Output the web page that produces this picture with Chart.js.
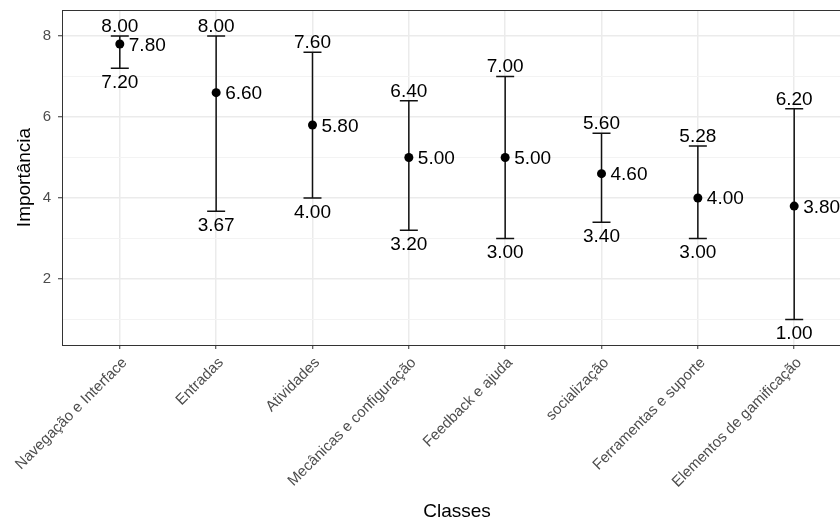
<!DOCTYPE html>
<html>
<head>
<meta charset="utf-8">
<script src="https://cdn.jsdelivr.net/npm/chart.js@4.4.1/dist/chart.umd.min.js"></script>
<style>
  html, body { margin: 0; padding: 0; overflow: hidden; background: #fff; }
  #wrap { width: 880px; height: 524px; }
</style>
</head>
<body>
<div id="wrap"><canvas id="chart" width="880" height="524"></canvas></div>
<script>
const categories = ['Navegação e Interface', 'Entradas', 'Atividades', 'Mecânicas e configuração',
    'Feedback e ajuda', 'socialização', 'Ferramentas e suporte', 'Elementos de gamificação'];
const meanValues = [7.80, 6.60, 5.80, 5.00, 5.00, 4.60, 4.00, 3.80];
const lowerValues = [7.20, 3.67, 4.00, 3.20, 3.00, 3.40, 3.00, 1.00];
const upperValues = [8.00, 8.00, 7.60, 6.40, 7.00, 5.60, 5.28, 6.20];
const yTicks = [1, 2, 3, 4, 5, 6, 7, 8];

Chart.defaults.font.family = '"Liberation Sans", Arial, sans-serif';

// barras de erro + rótulos + borda do painel
const errorBarPlugin = {
    id: 'errorBars',
    beforeDatasetsDraw(chart) {
        const { ctx, chartArea, scales: { x, y } } = chart;
        ctx.save();
        ctx.strokeStyle = '#333333';
        ctx.lineWidth = 1;
        ctx.strokeRect(chartArea.left + 0.5, chartArea.top + 0.5,
            chartArea.right - chartArea.left, chartArea.bottom - chartArea.top);

        ctx.strokeStyle = '#111111';
        ctx.lineWidth = 1.5;
        const half = 9;
        categories.forEach((c, i) => {
            const px = x.getPixelForValue(i);
            const yl = y.getPixelForValue(lowerValues[i]);
            const yu = y.getPixelForValue(upperValues[i]);
            ctx.beginPath();
            ctx.moveTo(px, yl); ctx.lineTo(px, yu);
            ctx.moveTo(px - half, yl); ctx.lineTo(px + half, yl);
            ctx.moveTo(px - half, yu); ctx.lineTo(px + half, yu);
            ctx.stroke();
        });
        ctx.restore();
    },
    afterDatasetsDraw(chart) {
        const { ctx, scales: { x, y } } = chart;
        ctx.save();
        ctx.fillStyle = '#000000';
        ctx.font = '19px "Liberation Sans", Arial, sans-serif';
        ctx.textBaseline = 'alphabetic';
        categories.forEach((c, i) => {
            const px = x.getPixelForValue(i);
            const yl = y.getPixelForValue(lowerValues[i]);
            const yu = y.getPixelForValue(upperValues[i]);
            const ym = y.getPixelForValue(meanValues[i]);
            ctx.textAlign = 'center';
            ctx.fillText(upperValues[i].toFixed(2), px, yu - 4);
            ctx.fillText(lowerValues[i].toFixed(2), px, yl + 20);
            ctx.textAlign = 'left';
            ctx.fillText(meanValues[i].toFixed(2), px + 9, ym + 6.5);
        });
        ctx.restore();
    }
};

const ctx = document.getElementById('chart').getContext('2d');
new Chart(ctx, {
    type: 'scatter',
    data: {
        datasets: [{
            label: 'Importância',
            data: categories.map((c, i) => ({ x: i, y: meanValues[i] })),
            backgroundColor: '#000000',
            borderWidth: 0,
            pointRadius: 4.5,
            pointHoverRadius: 4.5
        }]
    },
    options: {
        responsive: false,
        animation: false,
        layout: {
            padding: { top: 10, right: 28, left: 0, bottom: 0 }
        },
        plugins: {
            legend: { display: false },
            tooltip: { enabled: false }
        },
        scales: {
            x: {
                type: 'linear',
                min: -0.6,
                max: 7.6,
                afterBuildTicks: function (scale) {
                    scale.ticks = categories.map((c, i) => ({ value: i }));
                },
                afterFit: function (scale) {
                    scale.height = 179;
                    scale.paddingLeft = 0;
                    scale.paddingRight = 0;
                },
                border: { display: false },
                grid: {
                    color: '#EBEBEB',
                    lineWidth: 1.5,
                    tickColor: '#333333',
                    tickLength: 4,
                    tickWidth: 1
                },
                ticks: {
                    autoSkip: false,
                    minRotation: 45,
                    maxRotation: 45,
                    color: '#4D4D4D',
                    padding: 5,
                    labelOffset: 5,
                    font: { size: 15 },
                    callback: function (value) {
                        return categories[value];
                    }
                },
                title: {
                    display: true,
                    text: 'Classes',
                    color: '#000000',
                    font: { size: 19 },
                    padding: { top: 0, bottom: 1 }
                }
            },
            y: {
                min: 0.37,
                max: 8.64,
                afterBuildTicks: function (scale) {
                    scale.ticks = yTicks.map(v => ({ value: v }));
                },
                afterFit: function (scale) {
                    scale.width = 62;
                    scale.paddingTop = 0;
                    scale.paddingBottom = 0;
                },
                border: { display: false },
                grid: {
                    color: c => c.tick && c.tick.value % 2 ? '#F3F3F3' : '#EBEBEB',
                    lineWidth: c => c.tick && c.tick.value % 2 ? 1 : 1.5,
                    tickColor: c => c.tick && c.tick.value % 2 ? 'rgba(0,0,0,0)' : '#333333',
                    tickLength: 4,
                    tickWidth: 1
                },
                ticks: {
                    color: '#4D4D4D',
                    padding: 7,
                    font: { size: 15 },
                    callback: function (value) {
                        return value % 2 === 0 ? String(value) : '';
                    }
                },
                title: {
                    display: true,
                    text: 'Importância',
                    color: '#000000',
                    font: { size: 19 },
                    padding: { top: 13, bottom: 0 }
                }
            }
        }
    },
    plugins: [errorBarPlugin]
});
</script>
</body>
</html>
